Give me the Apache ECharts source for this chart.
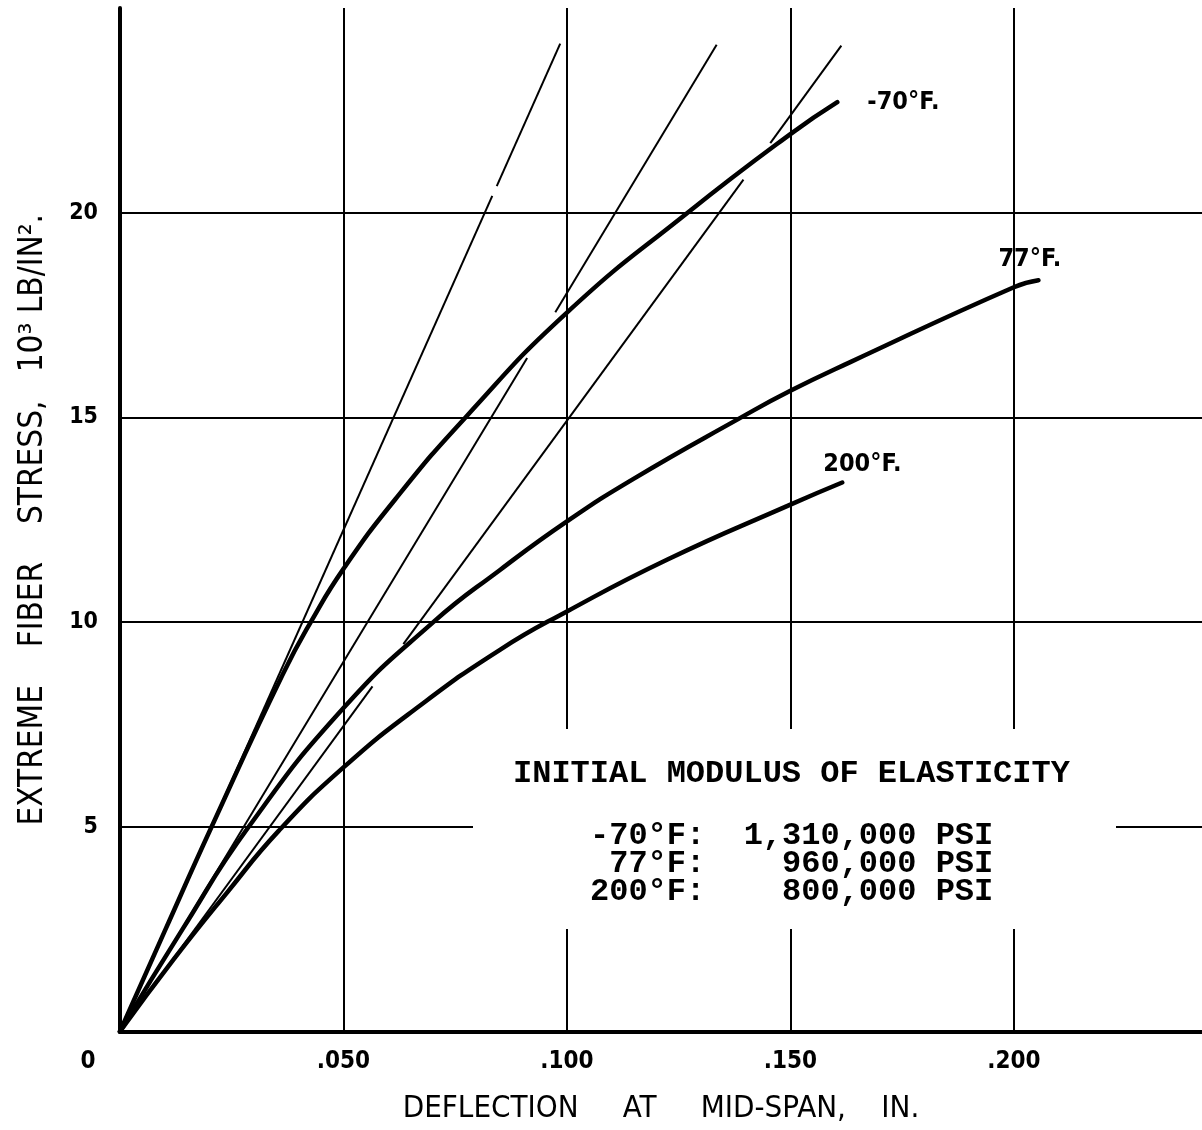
<!DOCTYPE html>
<html>
<head>
<meta charset="utf-8">
<script src="https://cdn.jsdelivr.net/npm/echarts@6/dist/echarts.min.js"></script>
<style>
  html, body { margin: 0; padding: 0; background: #fff; }
  #chart { width: 1202px; height: 1130px; }
</style>
</head>
<body>
<div id="chart"></div>
<script>
// ---- Data ----
// Stress-deflection curves (deflection in inches, stress in 10^3 lb/in^2)
const deflM70   = [0, 0.0100, 0.0205, 0.0364, 0.0430, 0.05, 0.0616, 0.0773, 0.1, 0.127, 0.15, 0.1605];
const stressM70 = [0, 2.45, 5, 8.72, 10.06, 11.3, 13.0, 15, 17.56, 20, 21.92, 22.7];

const defl77    = [0, 0.0140, 0.0288, 0.05, 0.0701, 0.0851, 0.1, 0.1149, 0.139, 0.15, 0.1634, 0.2, 0.2055];
const stress77  = [0, 2.5, 5, 7.9, 10, 11.28, 12.46, 13.5, 15, 15.65, 16.35, 18.18, 18.35];

const defl200   = [0, 0.0120, 0.0240, 0.0355, 0.05, 0.067, 0.0851, 0.1, 0.1225, 0.15, 0.1616];
const stress200 = [0, 1.76, 3.4, 4.9, 6.45, 7.95, 9.33, 10.26, 11.53, 12.87, 13.41];

// Initial-modulus (tangent) lines, drawn as broken segments [x1, y1, x2, y2]
const tangentM70 = [[0, 0, 0.0833, 20.41], [0.0843, 20.65, 0.0985, 24.13]];
const tangent77  = [[0, 0, 0.0911, 16.45], [0.0974, 17.57, 0.1335, 24.1]];
const tangent200 = [[0, 0, 0.0565, 8.43], [0.0634, 9.46, 0.1395, 20.81], [0.1455, 21.7, 0.1614, 24.08]];

const curveNames = ['-70°F.', '77°F.', '200°F.'];

const xTickValues = [0, 0.05, 0.1, 0.15, 0.2];
const xTickLabels = ['0', '.050', '.100', '.150', '.200'];
const yTickValues = [5, 10, 15, 20];
const yTickLabels = ['5', '10', '15', '20'];

const legendTitle = 'INITIAL MODULUS OF ELASTICITY';
const legendTemps = ['-70°F:', '77°F:', '200°F:'];
const legendModuli = ['1,310,000 PSI', '960,000 PSI', '800,000 PSI'];

// ---- Build ----
const zip = (xs, ys) => xs.map((x, i) => [x, ys[i]]);
const sansCond = '"DejaVu Sans Condensed", "Liberation Sans Narrow", "Roboto Condensed", "DejaVu Sans", sans-serif';
const mono = '"Liberation Mono", "DejaVu Sans Mono", monospace';
const XMAX = 0.2421;

function curve(name, data, labelOffset) {
  return {
    type: 'line', name: name, data: data, xAxisIndex: 0,
    smooth: 0.5,
    showSymbol: false, symbol: 'none', silent: true, z: 3,
    lineStyle: { color: '#000', width: 4.5, cap: 'round' },
    endLabel: {
      show: true, formatter: name, offset: labelOffset,
      color: '#000', fontFamily: sansCond, fontWeight: 'bold', fontSize: 25
    }
  };
}
function segments(list) {
  return list.map(s => ({
    type: 'line', data: [[s[0], s[1]], [s[2], s[3]]], xAxisIndex: 0,
    showSymbol: false, symbol: 'none', silent: true, z: 2,
    lineStyle: { color: '#000', width: 2 }
  }));
}

const series = [
  curve(curveNames[0], zip(deflM70, stressM70), [22, 0]),
  curve(curveNames[1], zip(defl77, stress77), [-48, -21]),
  curve(curveNames[2], zip(defl200, stress200), [-27, -18])
].concat(segments(tangentM70), segments(tangent77), segments(tangent200));

const chart = echarts.init(document.getElementById('chart'), null, { renderer: 'canvas' });
chart.setOption({
  animation: false,
  backgroundColor: '#fff',
  grid: { left: 120, right: 0, top: 8, bottom: 98.5 },
  xAxis: [{
    type: 'value', min: 0, max: XMAX, interval: 0.05, position: 'bottom',
    axisLine: { show: true, onZero: false, lineStyle: { color: '#000', width: 4 } },
    axisTick: { show: false },
    splitLine: { show: true, showMinLine: false, showMaxLine: false, lineStyle: { color: '#000', width: 2 } },
    axisLabel: {
      margin: 18, color: '#000', fontFamily: sansCond, fontWeight: 'bold', fontSize: 24,
      showMaxLabel: false,
      formatter: function (v) {
        const i = xTickValues.findIndex(t => Math.abs(t - v) < 1e-9);
        if (i < 0) return '';
        if (i === 0) return '{o|' + xTickLabels[0] + '}';
        return xTickLabels[i];
      },
      rich: { o: { padding: [0, 64, 0, 0], fontFamily: sansCond, fontWeight: 'bold', fontSize: 24, color: '#000' } }
    },
    name: 'DEFLECTION     AT     MID-SPAN,    IN.',
    nameLocation: 'middle', nameGap: 62,
    nameTextStyle: { color: '#000', fontFamily: sansCond, fontSize: 31 }
  }, {
    type: 'value', min: 0, max: XMAX, position: 'top',
    axisLine: { show: true, lineStyle: { color: '#000', width: 4 } },
    axisTick: { show: false }, axisLabel: { show: false }, splitLine: { show: false }
  }],
  yAxis: {
    type: 'value', min: 0, max: 25, interval: 5,
    axisLine: { show: true, onZero: false, lineStyle: { color: '#000', width: 4 } },
    axisTick: { show: false },
    splitLine: { show: true, showMinLine: false, showMaxLine: false, lineStyle: { color: '#000', width: 2 } },
    axisLabel: {
      margin: 22, color: '#000', fontFamily: sansCond, fontWeight: 'bold', fontSize: 23,
      formatter: function (v) {
        const i = yTickValues.findIndex(t => Math.abs(t - v) < 1e-9);
        return i < 0 ? '' : yTickLabels[i];
      }
    },
    name: 'EXTREME    FIBER    STRESS,   10³ LB/IN².',
    nameLocation: 'middle', nameGap: 70,
    nameTextStyle: { color: '#000', fontFamily: sansCond, fontSize: 33 }
  },
  graphic: [
    { type: 'rect', z: 50, shape: { x: 473, y: 729, width: 643, height: 200 }, style: { fill: '#fff' } },
    { type: 'text', z: 51, left: 513, top: 758,
      style: { text: legendTitle, fill: '#000', font: 'bold 32px ' + mono } },
    { type: 'text', z: 51, left: 590, top: 820,
      style: { text: legendTemps.map((t, i) => t.padStart(6, ' ') + '  ' + legendModuli[i].padStart(13, ' ')).join('\n'),
               fill: '#000', font: 'bold 32px ' + mono, lineHeight: 28 } }
  ],
  series: series
});
</script>
</body>
</html>
